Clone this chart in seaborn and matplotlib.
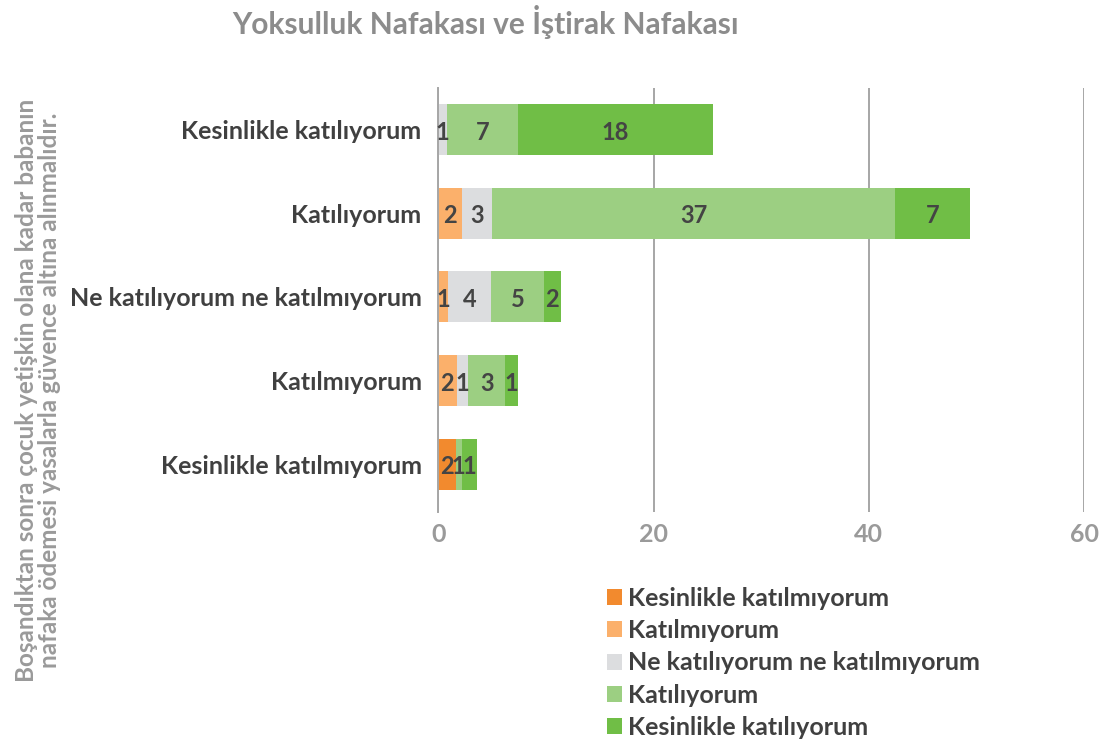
import matplotlib

matplotlib.use("Agg")

import matplotlib.pyplot as plt
import seaborn as sns
import pandas as pd
from matplotlib.patches import Patch


CATEGORIES = [
    "Kesinlikle katılıyorum",
    "Katılıyorum",
    "Ne katılıyorum ne katılmıyorum",
    "Katılmıyorum",
    "Kesinlikle katılmıyorum",
]
SERIES = [
    "Kesinlikle katılmıyorum",
    "Katılmıyorum",
    "Ne katılıyorum ne katılmıyorum",
    "Katılıyorum",
    "Kesinlikle katılıyorum",
]
# her satır bir kategori, sütunlar SERIES sırasında
KES_KATILMIYORUM = [0, 0, 0, 0, 1.6]
KATILMIYORUM = [0, 2.2, 0.9, 1.7, 0]
NE_NE = [0.8, 2.8, 4.0, 1.1, 0]
KATILIYORUM = [6.6, 37.4, 4.9, 3.4, 0.6]
KES_KATILIYORUM = [18.1, 7.0, 1.6, 1.2, 1.4]
COLORS = ["#F28A2E", "#FBB06B", "#DCDDDF", "#9CCF82", "#70BE46"]

TITLE = "Yoksulluk Nafakası ve İştirak Nafakası"
YLABEL = ("Boşandıktan sonra çocuk yetişkin olana kadar babanın\n"
          "nafaka ödemesi yasalarla güvence altına alınmalıdır.")


def main():
    sns.set_theme(style="white")
    plt.rcParams["font.family"] = ["Lato", "DejaVu Sans"]

    df = pd.DataFrame({
        "kategori": CATEGORIES,
        SERIES[0]: KES_KATILMIYORUM,
        SERIES[1]: KATILMIYORUM,
        SERIES[2]: NE_NE,
        SERIES[3]: KATILIYORUM,
        SERIES[4]: KES_KATILIYORUM,
    })
    cum = df[SERIES].cumsum(axis=1)

    fig = plt.figure(figsize=(11.04, 7.43), dpi=100)
    ax = fig.add_axes([0.397, 0.311, 0.585, 0.571])

    # yığılmış çubuklar: kümülatif toplamı büyükten küçüğe çiz
    for i in range(len(SERIES) - 1, -1, -1):
        sns.barplot(x=cum[SERIES[i]], y=df["kategori"], orient="h",
                    color=COLORS[i], width=0.61, saturation=1,
                    linewidth=0, ax=ax)

    # değer etiketleri
    for r in range(len(CATEGORIES)):
        left = 0
        for s in SERIES:
            v = df.loc[r, s]
            if v > 0:
                ax.text(left + v / 2, r + 0.03, "{:.0f}".format(v),
                        ha="center", va="center", fontsize=17,
                        fontweight="bold", color="#444444")
            left += v

    ax.set_xlim(0, 60)
    ax.set_ylim(4.57, -0.5)
    ax.set_xticks([0, 20, 40, 60])
    ax.xaxis.grid(True, color="#A6A6A6", linewidth=1.4)
    ax.set_axisbelow(True)
    for side in ["top", "right", "bottom"]:
        ax.spines[side].set_visible(False)
    ax.spines["left"].set_color("#A6A6A6")
    ax.spines["left"].set_linewidth(1.4)
    ax.tick_params(axis="x", labelsize=18, labelcolor="#9A9A9A", length=0, pad=8)
    ax.tick_params(axis="y", labelsize=18, labelcolor="#404040", length=0, pad=12)
    for t in ax.get_xticklabels():
        t.set_fontweight("bold")
    for t in ax.get_yticklabels():
        t.set_fontweight("bold")
    ax.set_xlabel("")
    ax.set_ylabel("")

    fig.text(0.44, 0.97, TITLE, ha="center", va="center", fontsize=21.5,
             fontweight="bold", color="#8C8C8C")
    fig.text(0.034, 0.475, YLABEL, ha="center", va="center", rotation=90,
             fontsize=17.5, fontweight="bold", color="#9A9A9A", linespacing=1.0)

    handles = [Patch(facecolor=c, edgecolor="none") for c in COLORS]
    leg = fig.legend(handles, SERIES, loc="upper left",
                     bbox_to_anchor=(0.55, 0.21), frameon=False,
                     handlelength=0.6, handleheight=0.6, handletextpad=0.25,
                     labelspacing=0.37, borderaxespad=0, borderpad=0,
                     prop={"size": 18, "weight": "bold"})
    for t in leg.get_texts():
        t.set_color("#404040")

    fig.savefig("out.png", dpi=100)
    plt.close(fig)


if __name__ == "__main__":
    main()
